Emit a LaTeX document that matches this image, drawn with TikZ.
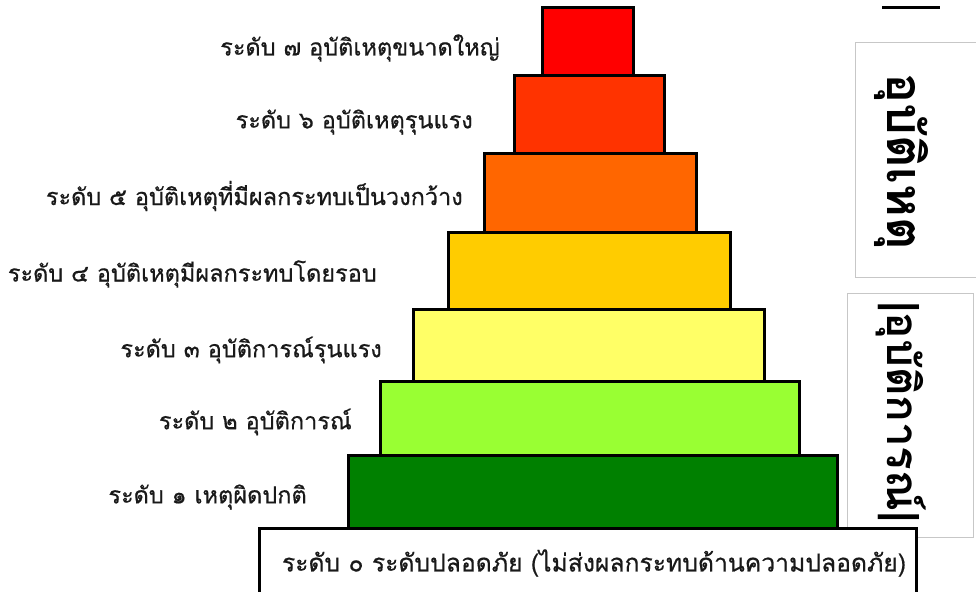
\documentclass[tikz,border=0pt]{standalone}
\usepackage{fontspec}
\setmainfont[Script=Thai]{Loma}
\newfontfamily\thaifont[Script=Thai,FakeBold=0.6]{Loma}
\newfontfamily\thaiside[Script=Thai]{Loma}
\definecolor{lvsev}{HTML}{FF0000}
\definecolor{lvsix}{HTML}{FF3300}
\definecolor{lvfive}{HTML}{FF6600}
\definecolor{lvfour}{HTML}{FFCC00}
\definecolor{lvthree}{HTML}{FFFF66}
\definecolor{lvtwo}{HTML}{99FF33}
\definecolor{lvone}{HTML}{008000}
\begin{document}
\begin{tikzpicture}[x=1pt,y=-1pt,
  lvbox/.style={draw=black, line width=3pt, inner sep=0pt},
  lvlabel/.style={anchor=east, inner sep=0pt, font=\thaifont\fontsize{23.5}{28}\selectfont, text=black!90},
  sidebox/.style={draw=black!22, line width=1pt},
  sidetext/.style={rotate=-90, inner sep=0pt, font=\thaiside\bfseries\fontsize{50}{56}\selectfont}
]
\useasboundingbox (0,0) rectangle (976,591);
\clip (0,0) rectangle (976,591);
\fill[white] (0,0) rectangle (976,591);
% side boxes
\draw[sidebox] (855,43) rectangle (990,277);
\draw[sidebox] (847,293) rectangle (973,537);
\node[sidetext] (acc) at (901,162) {อุบัติเหตุ};
\node[sidetext, font=\thaiside\bfseries\fontsize{44}{50}\selectfont] (inc) at (901,412) {|อุบัติการณ์|};
\draw[line width=3pt] (882,8) -- (940,8);
% level 0
\draw[lvbox, fill=white] (259,528) rectangle (916,600);
\node[inner sep=0pt, font=\thaifont\fontsize{24.7}{30}\selectfont, text=black!90] (l0) at (594,563) {ระดับ ๐ ระดับปลอดภัย (ไม่ส่งผลกระทบด้านความปลอดภัย)};
% levels
\draw[lvbox, fill=lvone] (348,455) rectangle (837,528);
\draw[lvbox, fill=lvtwo] (380,381) rectangle (799,455);
\draw[lvbox, fill=lvthree] (413,309) rectangle (764,381);
\draw[lvbox, fill=lvfour] (448,232) rectangle (730,309);
\draw[lvbox, fill=lvfive] (484,153) rectangle (696,232);
\draw[lvbox, fill=lvsix] (514,76) rectangle (664,153);
\draw[lvbox, fill=lvsev] (542,8) rectangle (633,76);
% labels
\node[lvlabel] (t7) at (500,48) {ระดับ ๗ อุบัติเหตุขนาดใหญ่};
\node[lvlabel] (t6) at (473,122) {ระดับ ๖ อุบัติเหตุรุนแรง};
\node[lvlabel] (t5) at (463,196) {ระดับ ๕ อุบัติเหตุที่มีผลกระทบเป็นวงกว้าง};
\node[lvlabel] (t4) at (377,274) {ระดับ ๔ อุบัติเหตุมีผลกระทบโดยรอบ};
\node[lvlabel] (t3) at (382,350) {ระดับ ๓ อุบัติการณ์รุนแรง};
\node[lvlabel] (t2) at (352,422) {ระดับ ๒ อุบัติการณ์};
\node[lvlabel] (t1) at (307,497) {ระดับ ๑ เหตุผิดปกติ};
\end{tikzpicture}
\end{document}
